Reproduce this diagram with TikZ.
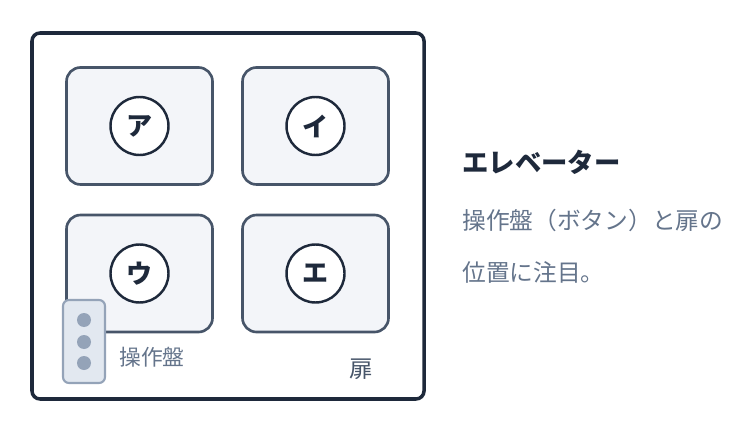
\documentclass[tikz,border=0pt]{standalone}
\usepackage{fontspec}
\setmainfont{Noto Sans CJK JP}
\usepackage{tikz}
\usetikzlibrary{shapes,calc}

\definecolor{frameink}{HTML}{1E293B}
\definecolor{boxink}{HTML}{475569}
\definecolor{boxfill}{HTML}{F3F5F9}
\definecolor{panelfill}{HTML}{E2E8F0}
\definecolor{panelink}{HTML}{94A3B8}
\definecolor{textgrey}{HTML}{64748B}

\begin{document}
\begin{tikzpicture}[
    doorbox/.style={draw=boxink,line width=1.5pt,fill=boxfill,rounded corners=0.28cm,
      minimum width=2.92cm,minimum height=2.34cm},
    badge/.style={circle,draw=frameink,line width=1.4pt,fill=white,minimum size=1.16cm,
      inner sep=0pt,font=\fontsize{14.8}{16}\selectfont\bfseries,text=frameink},
    dot/.style={circle,fill=panelink,minimum size=0.28cm,inner sep=0pt},
    note/.style={anchor=west,inner sep=0pt,text=textgrey,font=\fontsize{13.5}{15}\selectfont}
  ]
        \useasboundingbox (0, 0) rectangle (15.08, -8.64);
        % the car
        \draw[frameink,line width=2pt,rounded corners=0.16cm] (0.64, -0.66) rectangle (8.48, -7.98);
        \node[doorbox](boxA) at (2.79, -2.52) {};
        \node[doorbox](boxI) at (6.31, -2.52) {};
        \node[doorbox](boxU) at (2.79, -5.47) {};
        \node[doorbox](boxE) at (6.31, -5.47) {};
        \node[badge](a) at (boxA) {ア};
        \node[badge](i) at (boxI) {イ};
        \node[badge](u) at (boxU) {ウ};
        \node[badge](e) at (boxE) {エ};
        % panel with buttons
        \node[draw=panelink,line width=1.2pt,fill=panelfill,rounded corners=0.12cm,
          minimum width=0.84cm,minimum height=1.66cm](panel) at (1.68, -6.83) {};
        \node[dot](b1) at (1.68, -6.40) {};
        \node[dot](b2) at (1.68, -6.84) {};
        \node[dot](b3) at (1.68, -7.26) {};
        \node[text=textgrey,font=\fontsize{12.4}{14}\selectfont](panellabel) at (3.04, -7.14) {操作盤};
        \node[text=boxink,font=\fontsize{13.4}{15}\selectfont](doorlabel) at (7.22, -7.38) {扉};
        % caption
        \node[anchor=west,inner sep=0pt,text=frameink,font=\fontsize{15}{16}\selectfont\bfseries](title) at (9.24, -3.24) {エレベーター};
        \node[note](line1) at (9.24, -4.40) {操作盤（ボタン）と扉の};
        \node[note](line2) at (9.24, -5.44) {位置に注目。};
      \end{tikzpicture}
\end{document}
